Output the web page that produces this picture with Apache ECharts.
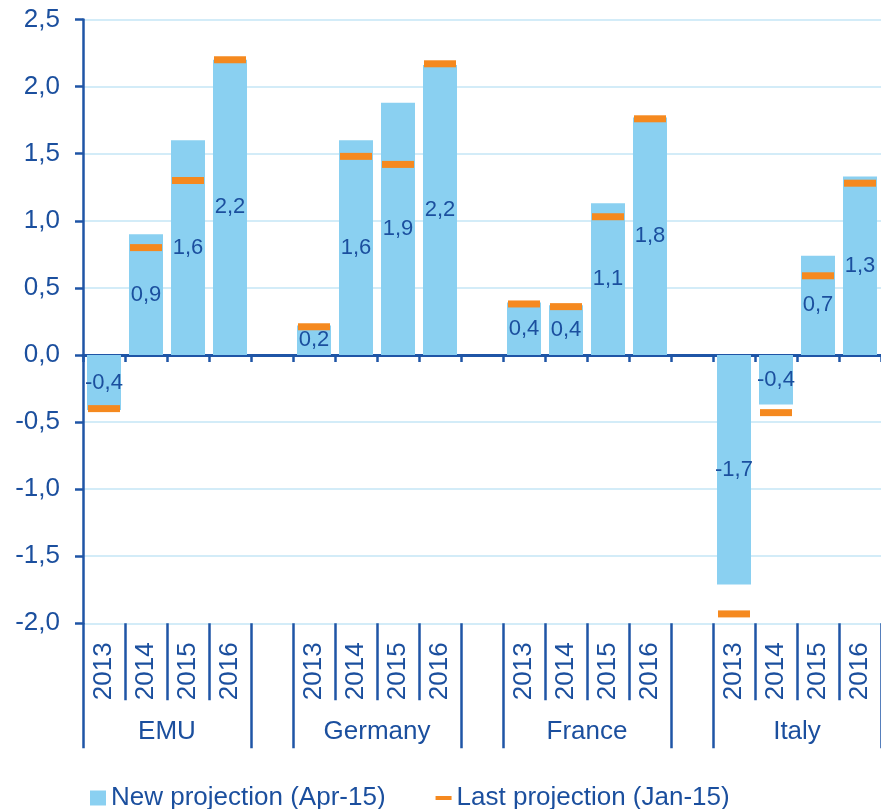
<!DOCTYPE html>
<html>
<head>
<meta charset="utf-8">
<title>GDP growth projections</title>
<script src="https://cdn.jsdelivr.net/npm/echarts@6/dist/echarts.min.js"></script>
<style>
  html, body { margin: 0; padding: 0; background: #ffffff; }
  #chart { width: 881px; height: 809px; }
</style>
</head>
<body>
<div id="chart"></div>
<script>
// Regions and projection years
const groups = ['EMU', 'Germany', 'France', 'Italy'];
const years = ['2013', '2014', '2015', '2016'];

// New projection (Apr-15), one value per year
const newEMU = [-0.41, 0.90, 1.60, 2.20];
const newGermany = [0.22, 1.60, 1.88, 2.16];
const newFrance = [0.39, 0.37, 1.13, 1.77];
const newItaly = [-1.71, -0.37, 0.74, 1.33];

// Last projection (Jan-15), one value per year
const lastEMU = [-0.40, 0.80, 1.30, 2.20];
const lastGermany = [0.21, 1.48, 1.42, 2.17];
const lastFrance = [0.38, 0.36, 1.03, 1.76];
const lastItaly = [-1.93, -0.43, 0.59, 1.28];

const yTicks = { min: -2, max: 2.5, step: 0.5 };

const seriesNames = ['New projection (Apr-15)', 'Last projection (Jan-15)'];

// Build the slot layout: four years per region, one empty slot between regions
const newByGroup = [newEMU, newGermany, newFrance, newItaly];
const lastByGroup = [lastEMU, lastGermany, lastFrance, lastItaly];
const slotLabels = [];
const newData = [];
const lastData = [];
const groupBounds = [];
const groupCenters = [];
groups.forEach((g, gi) => {
  const start = slotLabels.length;
  years.forEach((y, yi) => {
    slotLabels.push(y);
    newData.push(newByGroup[gi][yi]);
    lastData.push(lastByGroup[gi][yi]);
  });
  const end = slotLabels.length;
  groupBounds.push(start, end);
  groupCenters.push((start + end) / 2);
  if (gi < groups.length - 1) {
    slotLabels.push('');
    newData.push('-');
    lastData.push('-');
  }
});
const slotCount = slotLabels.length;

const textColor = '#1b4f9e';
const lineColor = '#1f55a6';
const gridColor = '#c4e6f6';
const barColor = '#8ad0f1';
const markColor = '#f5891f';
const fontFamily = 'Liberation Sans, Arial, sans-serif';

const fmt = v => Number(v).toFixed(1).replace('.', ',');

const chart = echarts.init(document.getElementById('chart'), null, { renderer: 'canvas' });

chart.setOption({
  animation: false,
  backgroundColor: '#ffffff',
  textStyle: { fontFamily: fontFamily },
  grid: { left: 83, right: -5, top: 19.5, bottom: 185.7, containLabel: false },
  legend: {
    left: 85,
    top: 780,
    itemWidth: 16,
    itemHeight: 15,
    itemGap: 50,
    textStyle: { color: textColor, fontSize: 26, fontFamily: fontFamily },
    data: [
      { name: seriesNames[0], icon: 'rect' },
      { name: seriesNames[1], icon: 'path://M0,0H16V4H0Z' }
    ]
  },
  xAxis: [
    {
      // axis drawn through zero
      type: 'category',
      data: slotLabels,
      position: 'bottom',
      axisLine: { show: true, onZero: true, lineStyle: { color: lineColor, width: 3 } },
      axisTick: { show: true, interval: 0, length: 7, lineStyle: { color: lineColor, width: 2.5 } },
      axisLabel: { show: false },
      splitLine: { show: false }
    },
    {
      // year labels and their separators along the bottom
      type: 'category',
      data: slotLabels,
      position: 'bottom',
      axisLine: { show: false, onZero: false },
      axisTick: { show: true, interval: 0, length: 77, lineStyle: { color: lineColor, width: 2.5 } },
      axisLabel: {
        show: true, interval: 0, rotate: 90, margin: 19,
        color: textColor, fontSize: 26, fontFamily: fontFamily
      },
      splitLine: { show: false }
    },
    {
      // region names and the long region separators
      type: 'value',
      min: 0,
      max: slotCount,
      position: 'bottom',
      axisLine: { show: false, onZero: false },
      axisTick: {
        show: true, length: 125, customValues: groupBounds,
        lineStyle: { color: lineColor, width: 2.5 }
      },
      axisLabel: {
        show: true, margin: 96, customValues: groupCenters,
        color: textColor, fontSize: 26, fontFamily: fontFamily,
        formatter: v => groups[groupCenters.indexOf(v)] || ''
      },
      splitLine: { show: false }
    }
  ],
  yAxis: {
    type: 'value',
    min: yTicks.min,
    max: yTicks.max,
    interval: yTicks.step,
    axisLine: { show: true, onZero: false, lineStyle: { color: lineColor, width: 2.5 } },
    axisTick: { show: true, length: 8, lineStyle: { color: lineColor, width: 2.5 } },
    axisLabel: {
      margin: 23, color: textColor, fontSize: 26, fontFamily: fontFamily,
      formatter: v => fmt(v)
    },
    splitLine: { show: true, lineStyle: { color: gridColor, width: 1.5 } }
  },
  series: [
    {
      name: seriesNames[0],
      type: 'bar',
      xAxisIndex: 0,
      data: newData,
      barWidth: 34,
      itemStyle: { color: barColor },
      label: {
        show: true,
        position: 'inside',
        color: textColor,
        fontSize: 22,
        fontFamily: fontFamily,
        formatter: p => fmt(p.value)
      },
      z: 2
    },
    {
      name: seriesNames[1],
      type: 'scatter',
      xAxisIndex: 0,
      data: lastData,
      symbol: 'rect',
      symbolSize: [32, 7],
      itemStyle: { color: markColor, opacity: 1 },
      z: 3
    }
  ]
});
</script>
</body>
</html>
